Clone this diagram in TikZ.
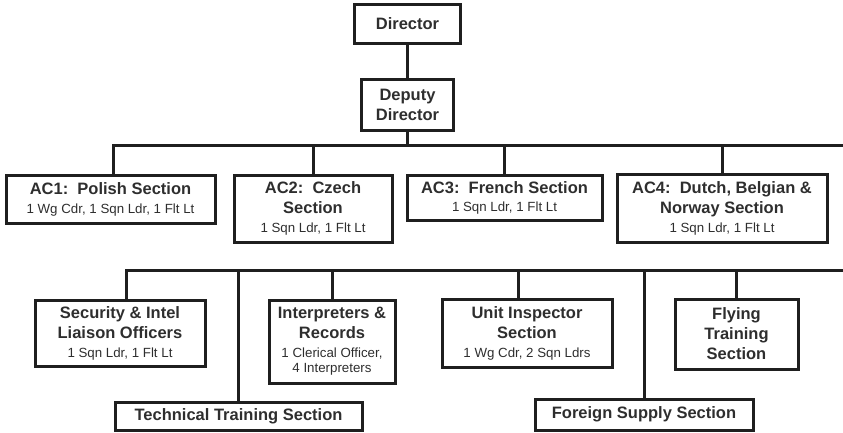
\documentclass[tikz,border=0pt]{standalone}
\usepackage{fontspec}
\setmainfont{Liberation Sans}
\newcommand{\staff}[1]{{\fontsize{13.3}{15}\selectfont\mdseries #1}}
\tikzset{
  unitbox/.style={draw=black!88, line width=3pt, align=center, inner sep=1pt,
    font=\fontsize{16.5}{20}\selectfont\bfseries, text=black!82},
  link/.style={draw=black!88, line width=3pt}
}
\begin{document}
\begin{tikzpicture}[x=1pt,y=-1pt]
    \useasboundingbox (0,0) rectangle (843,432);
    % top of the chart
    \node[unitbox, minimum width=106pt, minimum height=39pt] (director) at (407.5,23.5) {Director};
    \node[unitbox, minimum width=92pt, minimum height=51pt] (deputy) at (407.5,104.5) {Deputy\\Director};
    % country sections
    \node[unitbox, minimum width=209pt, minimum height=48pt] (acone) at (110.5,199) {AC1:\ \ Polish Section\\[-1pt]\staff{1 Wg Cdr, 1 Sqn Ldr, 1 Flt Lt}};
    \node[unitbox, minimum width=158pt, minimum height=67pt] (actwo) at (313,208.5) {AC2:\ \ Czech\\Section\\[-1pt]\staff{1 Sqn Ldr, 1 Flt Lt}};
    \node[unitbox, minimum width=195pt, minimum height=45pt] (acthree) at (504.5,197.5) {AC3:\ \ French Section\\[-2pt]\staff{1 Sqn Ldr, 1 Flt Lt}};
    \node[unitbox, minimum width=210pt, minimum height=68pt] (acfour) at (722,208) {AC4:\ \ Dutch, Belgian \&\\Norway Section\\[-1pt]\staff{1 Sqn Ldr, 1 Flt Lt}};
    % support sections
    \node[unitbox, minimum width=170pt, minimum height=66pt] (security) at (120,333) {Security \& Intel\\Liaison Officers\\[-1pt]\staff{1 Sqn Ldr, 1 Flt Lt}};
    \node[unitbox, minimum width=126pt, minimum height=83pt] (interp) at (332,341.5) {Interpreters \&\\Records\\[-1pt]\staff{1 Clerical Officer,}\\[-5pt]\staff{4 Interpreters}};
    \node[unitbox, minimum width=170pt, minimum height=68pt] (inspector) at (527,333) {Unit Inspector\\Section\\[-1pt]\staff{1 Wg Cdr, 2 Sqn Ldrs}};
    \node[unitbox, minimum width=123pt, minimum height=70pt] (flying) at (736.5,334) {Flying\\Training\\Section};
    \node[unitbox, minimum width=247pt, minimum height=28pt] (technical) at (238.5,416) {Technical Training Section};
    \node[unitbox, minimum width=218pt, minimum height=31pt] (supply) at (644,414.5) {Foreign Supply Section};
    % bus lines
    \coordinate (busone) at (843,145);
    \coordinate (bustwo) at (843,270);
    \draw[link] (director) -- (deputy);
    \draw[link] (deputy.south) -- (deputy.south |- busone);
    \draw[link] ([xshift=2.5pt]acone.north) |- (busone);
    \foreach \unit in {actwo, acthree, acfour}
        \draw[link] (\unit.north) -- (\unit.north |- busone);
    \draw[link] ([xshift=6pt]security.north) |- (bustwo);
    \draw[link] (technical.north) -- (technical.north |- bustwo);
    \draw[link] (interp.north) -- (interp.north |- bustwo);
    \draw[link] ([xshift=-9pt]inspector.north) -- ([xshift=-9pt]inspector.north |- bustwo);
    \draw[link] (supply.north) -- (supply.north |- bustwo);
    \draw[link] (flying.north) -- (flying.north |- bustwo);
\end{tikzpicture}
\end{document}
